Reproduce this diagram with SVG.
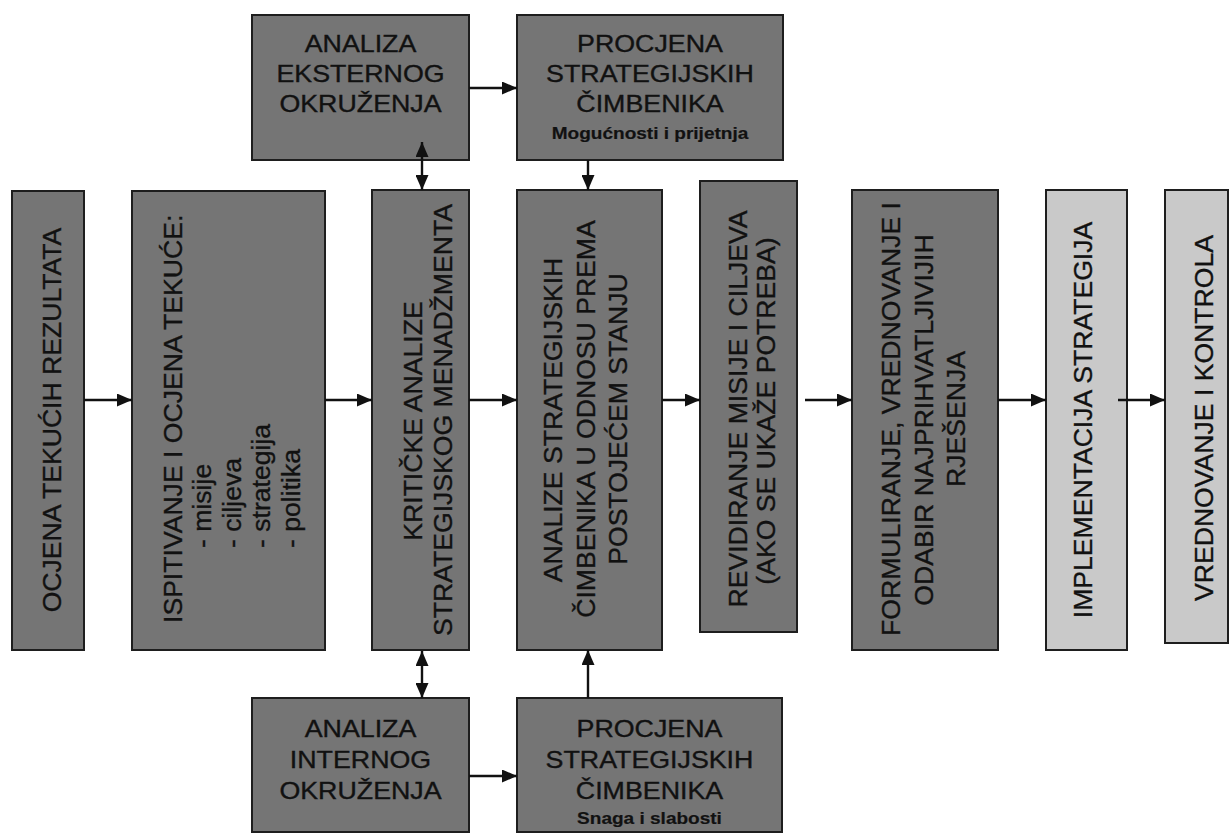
<svg xmlns="http://www.w3.org/2000/svg" width="1230" height="836" viewBox="0 0 1230 836">
<style>
.box{fill:#757575;stroke:#1e1e1e;stroke-width:2}
.lbox{fill:#c9c9c9;stroke:#1e1e1e;stroke-width:2}
text{font-family:"Liberation Sans",Arial,sans-serif;fill:#111;stroke:#111;stroke-width:0.35}
.v{font-size:26.6px}
.h{font-size:23.5px;text-anchor:middle}
.s{font-size:17px;font-weight:bold;text-anchor:middle;stroke-width:0.2}
.c{stroke:#111;stroke-width:2.4;fill:none;marker-end:url(#ah)}
.d{marker-start:url(#ah)}
</style>
<defs>
<marker id="ah" markerUnits="userSpaceOnUse" markerWidth="15" markerHeight="13" refX="15" refY="6.5" orient="auto-start-reverse" viewBox="0 0 15 13">
<path d="M0,0 L15,6.5 L0,13 z" fill="#111"/>
</marker>
</defs>
<rect width="1230" height="836" fill="#ffffff"/>

<g id="ocjena">
<rect class="box" x="12" y="191" width="72" height="459"/>
<text class="v" text-anchor="middle" transform="translate(61,420) rotate(-90)">OCJENA TEKUĆIH REZULTATA</text>
</g>

<g id="ispitivanje">
<rect class="box" x="132" y="191" width="193" height="459"/>
<text class="v" text-anchor="start" transform="translate(182,623) rotate(-90)">ISPITIVANJE I OCJENA TEKUĆE:</text>
<text class="v" text-anchor="start" transform="translate(211,548) rotate(-90)">- misije</text>
<text class="v" text-anchor="start" transform="translate(240.5,548) rotate(-90)">- ciljeva</text>
<text class="v" text-anchor="start" transform="translate(270,548) rotate(-90)">- strategija</text>
<text class="v" text-anchor="start" transform="translate(299.5,548) rotate(-90)">- politika</text>
</g>

<g id="kriticke">
<rect class="box" x="372" y="190" width="97" height="460"/>
<text class="v" text-anchor="middle" transform="translate(422,421) rotate(-90)">KRITIČKE ANALIZE</text>
<text class="v" text-anchor="middle" transform="translate(452,420) rotate(-90)">STRATEGIJSKOG MENADŽMENTA</text>
</g>

<g id="analize">
<rect class="box" x="517" y="190" width="145" height="460"/>
<text class="v" text-anchor="middle" transform="translate(562,420) rotate(-90)">ANALIZE STRATEGIJSKIH</text>
<text class="v" text-anchor="middle" transform="translate(595,419) rotate(-90)">ČIMBENIKA U ODNOSU PREMA</text>
<text class="v" text-anchor="middle" transform="translate(627,419) rotate(-90)">POSTOJEĆEM STANJU</text>
</g>

<g id="revidiranje">
<rect class="box" x="700" y="181" width="97" height="451"/>
<text class="v" text-anchor="middle" transform="translate(747,409) rotate(-90)">REVIDIRANJE MISIJE I CILJEVA</text>
<text class="v" text-anchor="middle" transform="translate(775,411) rotate(-90)">(AKO SE UKAŽE POTREBA)</text>
</g>

<g id="formuliranje">
<rect class="box" x="852" y="190" width="146" height="460"/>
<text class="v" text-anchor="middle" transform="translate(900,419) rotate(-90)">FORMULIRANJE, VREDNOVANJE I</text>
<text class="v" text-anchor="middle" transform="translate(933,420) rotate(-90)">ODABIR NAJPRIHVATLJIVIJIH</text>
<text class="v" text-anchor="middle" transform="translate(965,419) rotate(-90)">RJEŠENJA</text>
</g>

<g id="implementacija">
<rect class="lbox" x="1046" y="190" width="81" height="460"/>
<text class="v" text-anchor="middle" transform="translate(1092,420) rotate(-90)">IMPLEMENTACIJA STRATEGIJA</text>
</g>

<g id="vrednovanje">
<rect class="lbox" x="1165" y="190" width="63" height="453"/>
<text class="v" text-anchor="middle" transform="translate(1213,418) rotate(-90)">VREDNOVANJE I KONTROLA</text>
</g>

<g id="analiza-eksterno">
<rect class="box" x="252" y="15" width="217" height="145"/>
<g transform="translate(360.5,52) scale(1.14,1)"><text class="h">ANALIZA</text></g>
<g transform="translate(360.5,82) scale(1.14,1)"><text class="h">EKSTERNOG</text></g>
<g transform="translate(360.5,112) scale(1.14,1)"><text class="h">OKRUŽENJA</text></g>
</g>

<g id="procjena-gore">
<rect class="box" x="517" y="15" width="266" height="145"/>
<g transform="translate(650,52) scale(1.14,1)"><text class="h">PROCJENA</text></g>
<g transform="translate(650,82) scale(1.14,1)"><text class="h">STRATEGIJSKIH</text></g>
<g transform="translate(650,112) scale(1.14,1)"><text class="h">ČIMBENIKA</text></g>
<g transform="translate(650,138.5) scale(1.12,1)"><text class="s">Mogućnosti i prijetnja</text></g>
</g>

<g id="analiza-interno">
<rect class="box" x="252" y="698" width="217" height="134"/>
<g transform="translate(360.5,736.5) scale(1.14,1)"><text class="h">ANALIZA</text></g>
<g transform="translate(360.5,767.5) scale(1.14,1)"><text class="h">INTERNOG</text></g>
<g transform="translate(360.5,798.5) scale(1.14,1)"><text class="h">OKRUŽENJA</text></g>
</g>

<g id="procjena-dolje">
<rect class="box" x="517" y="698" width="265" height="134"/>
<g transform="translate(649.5,736.5) scale(1.14,1)"><text class="h">PROCJENA</text></g>
<g transform="translate(649.5,767.5) scale(1.14,1)"><text class="h">STRATEGIJSKIH</text></g>
<g transform="translate(649.5,798.5) scale(1.14,1)"><text class="h">ČIMBENIKA</text></g>
<g transform="translate(649.5,824) scale(1.12,1)"><text class="s">Snaga i slabosti</text></g>
</g>

<g id="connectors">
<line class="c" x1="84" y1="400" x2="132" y2="400"/>
<line class="c" x1="325" y1="400" x2="372" y2="400"/>
<line class="c" x1="469" y1="400" x2="517" y2="400"/>
<line class="c" x1="662" y1="400" x2="700" y2="400"/>
<line class="c" x1="805" y1="400" x2="852" y2="400"/>
<line class="c" x1="998" y1="400" x2="1046" y2="400"/>
<line class="c" x1="1118" y1="400" x2="1165" y2="400"/>
<line class="c" x1="469" y1="88" x2="517" y2="88"/>
<line class="c" x1="469" y1="776" x2="517" y2="776"/>
<line class="c d" x1="422" y1="142" x2="422" y2="190"/>
<line class="c d" x1="422" y1="651" x2="422" y2="698"/>
<line class="c" x1="588" y1="160" x2="588" y2="190"/>
<line class="c" x1="588" y1="698" x2="588" y2="650"/>
</g>
</svg>
